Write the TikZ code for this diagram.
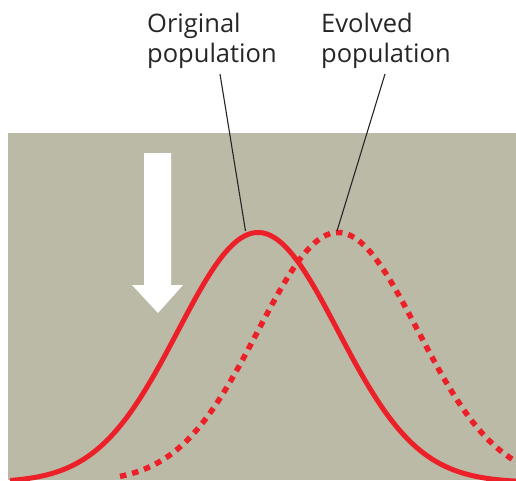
\documentclass[tikz,border=0pt]{standalone}
\usepackage{fontspec}
\setmainfont{Open Sans}
\definecolor{bg}{RGB}{187,186,166}
\definecolor{cred}{RGB}{236,32,40}
\begin{document}
\begin{tikzpicture}[x=1pt,y=-1pt,
  lbl/.style={inner sep=0pt, align=left, font=\fontsize{25.5}{30}\selectfont, text=black!85},
  leader/.style={draw=black!85, line width=1.1pt},
  curve/.style={draw=cred, line width=5pt},
  dotcurve/.style={draw=cred, line width=5.5pt, dash pattern=on 6.5pt off 6pt}]
\useasboundingbox (0,0) rectangle (516,480);
\fill[white] (0,0) rectangle (516,480);
\fill[bg] (8,133) rectangle (516,480);
\begin{scope}
\clip (8,133) rectangle (516,480);
% evolved (dotted)
\draw[dotcurve] plot[domain=120:530, samples=120, smooth] (\x, {482.5-250*exp(-0.5*((\x-338)/80)^2)});
% original (solid)
\draw[curve] plot[domain=10:520, samples=140, smooth] (\x, {482.5-250*exp(-0.5*((\x-258)/80)^2)});
\end{scope}
% white arrow
\fill[white] (144,153) -- (171,153) -- (171,285) -- (183,285) -- (158,313) -- (132,285) -- (144,285) -- cycle;
% labels
\node[lbl, anchor=north west] (orig) at (147,12.5) {Original\\population};
\node[lbl, anchor=north west] (evol) at (321,12.5) {Evolved\\population};
\coordinate (o1) at (220,74);
\coordinate (o2) at (245.5,231);
\coordinate (e1) at (385,74);
\coordinate (e2) at (337,231);
\draw[leader] (o1) -- (o2);
\draw[leader] (e1) -- (e2);
\end{tikzpicture}
\end{document}
